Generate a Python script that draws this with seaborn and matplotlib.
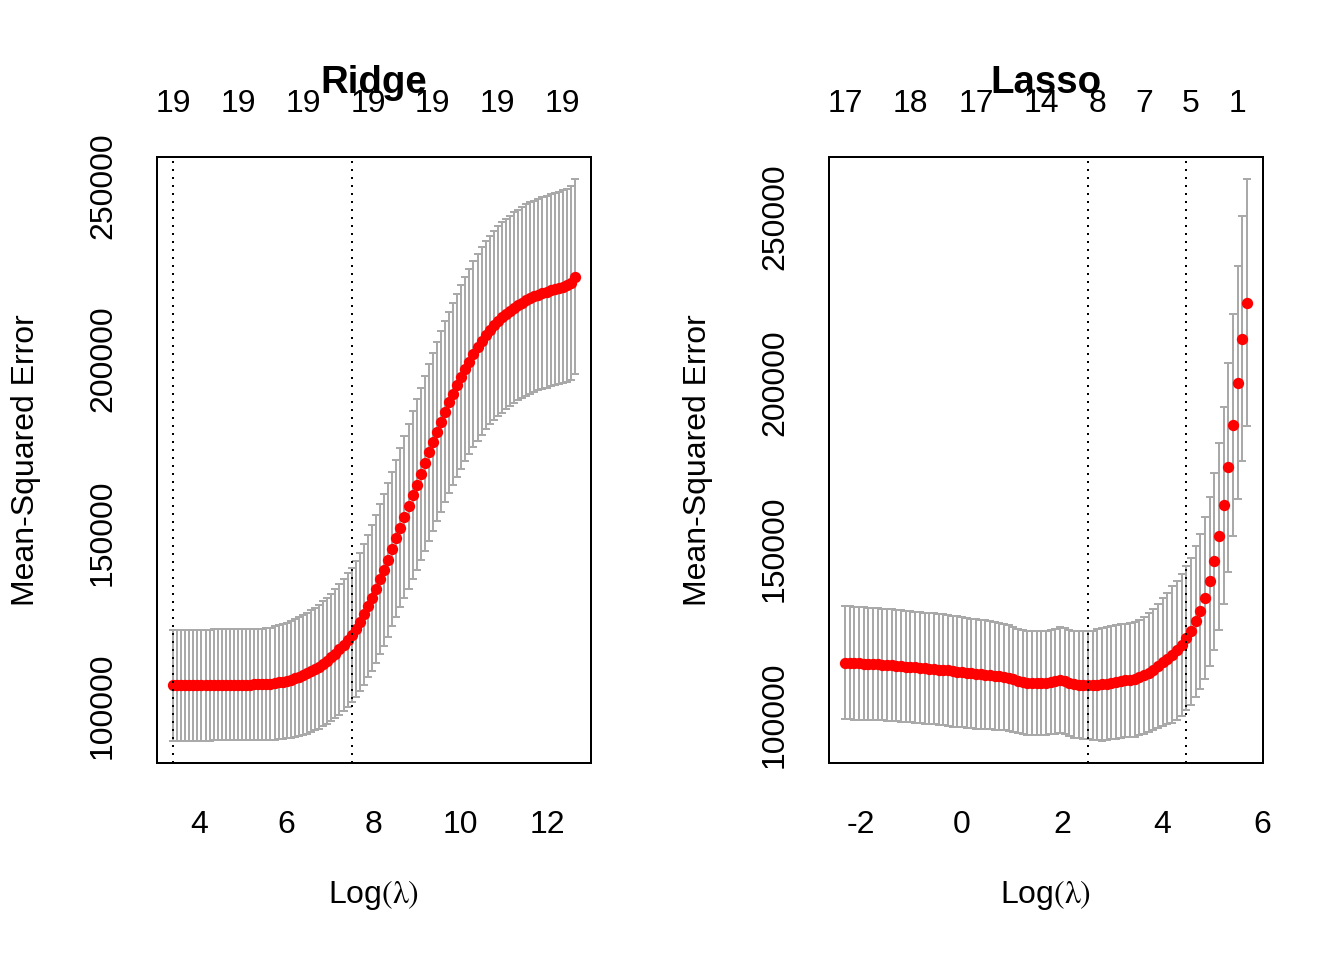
import numpy as np
import matplotlib
matplotlib.use('Agg')
import matplotlib.pyplot as plt
import seaborn as sns

# ---- Ridge CV curve (log lambda grid, mean CV error, its standard error)
ridge_loglam = np.linspace(3.404, 12.619, 100)
ridge_mse = [
    106000, 106000, 106000, 106000, 106000, 106000, 106000, 106000, 106000, 106000,
    106100, 106100, 106100, 106100, 106100, 106100, 106100, 106100, 106100, 106100,
    106200, 106200, 106200, 106300, 106400, 106600, 106800, 107000, 107300, 107600,
    108000, 108400, 108900, 109400, 110000, 110600, 111300, 112100, 113000, 114000,
    115100, 116300, 117600, 119000, 120500, 122200, 124200, 126400, 128800, 131200,
    133800, 136500, 139300, 142200, 145200, 148300, 151400, 154500, 157600, 160700,
    163800, 166900, 170000, 173100, 176100, 179100, 182000, 184800, 187500, 190000,
    192400, 194800, 197100, 199300, 201400, 203400, 205200, 206900, 208400, 209700,
    210900, 212000, 213000, 213900, 214800, 215600, 216300, 217000, 217600, 218100,
    218600, 219000, 219400, 219800, 220200, 220500, 220900, 221300, 221900, 223800,
]
ridge_sd = [
    16000, 16000, 16000, 16000, 16000, 16000, 16000, 16000, 16000, 16000,
    16000, 16000, 16000, 16000, 16000, 16000, 16000, 16000, 16000, 16000,
    16000, 16050, 16100, 16150, 16200, 16300, 16400, 16550, 16700, 16850,
    17000, 17150, 17300, 17400, 17550, 17700, 17850, 18000, 18200, 18400,
    18600, 18800, 19000, 19200, 19400, 19700, 20000, 20300, 20600, 21000,
    21300, 21600, 21900, 22200, 22300, 22600, 23000, 23400, 23800, 24200,
    24600, 24900, 25200, 25500, 25700, 25900, 26000, 26100, 26200, 26300,
    26400, 26500, 26600, 26700, 26800, 26900, 27000, 27100, 27200, 27300,
    27400, 27500, 27500, 27500, 27500, 27500, 27500, 27600, 27600, 27600,
    27600, 27600, 27700, 27700, 27700, 27700, 27800, 27800, 27900, 28000,
]
ridge_top_idx = [0, 16, 32, 48, 64, 80, 96]
ridge_top_nzero = [19, 19, 19, 19, 19, 19, 19]
ridge_vline_idx = [0, 44]          # lambda.min, lambda.1se

# ---- Lasso CV curve
lasso_loglam = np.linspace(-2.320, 5.686, 87)
lasso_mse = [
    115500, 115500, 115400, 115400, 115300, 115200, 115200, 115100, 115000, 114900,
    114800, 114700, 114600, 114400, 114300, 114200, 114000, 113900, 113800, 113700,
    113500, 113400, 113200, 113000, 112800, 112700, 112500, 112300, 112200, 112000,
    111900, 111800, 111600, 111500, 111300, 110900, 110500, 110100, 109700, 109500,
    109400, 109400, 109400, 109500, 109700, 110000, 110300, 110100, 109500, 109000,
    108900, 108800, 108800, 108800, 108900, 109000, 109200, 109500, 109700, 110000,
    110200, 110300, 110500, 111100, 111700, 112500, 113500, 114500, 115700, 116800,
    118000, 119300, 121000, 123000, 125000, 128000, 131000, 134900, 140100, 146100,
    153600, 162900, 174400, 187200, 199900, 213100, 223900,
]
lasso_sd = [
    17000, 17000, 17000, 17000, 16950, 16900, 16900, 16900, 16850, 16850,
    16800, 16800, 16800, 16750, 16750, 16700, 16700, 16700, 16700, 16700,
    16700, 16700, 16700, 16700, 16700, 16650, 16600, 16550, 16500, 16450,
    16400, 16300, 16200, 16100, 16000, 15900, 15800, 15700, 15600, 15600,
    15600, 15600, 15600, 15700, 15700, 15800, 15900, 16000, 16000, 16100,
    16100, 16200, 16200, 16400, 16700, 16900, 17000, 17000, 17100, 17100,
    17100, 17100, 17200, 17400, 17600, 17900, 18300, 18700, 19200, 19700,
    20500, 21000, 21400, 21700, 22200, 22700, 23400, 24400, 25400, 26700,
    28200, 29700, 31500, 33400, 35100, 36900, 37200,
]
lasso_top_idx = [0, 14, 28, 42, 54, 64, 74, 84]
lasso_top_nzero = [17, 18, 17, 14, 8, 7, 5, 1]
lasso_vline_idx = [52, 73]

y_ticks = [100000, 150000, 200000, 250000]
ridge_xticks = [4, 6, 8, 10, 12]
lasso_xticks = [-2, 0, 2, 4, 6]

PX = 72 / 192  # points per pixel at the output resolution


def cv_panel(ax, loglam, mse, sd, top_idx, top_labels, vline_idx, title, xticks):
    loglam = np.asarray(loglam)
    mse = np.asarray(mse, dtype=float)
    sd = np.asarray(sd, dtype=float)
    upper, lower = mse + sd, mse - sd

    ax.errorbar(loglam, mse, yerr=sd, fmt='none', ecolor='darkgrey',
                elinewidth=0.75, capsize=1.5, capthick=0.75, zorder=1)
    sns.scatterplot(x=loglam, y=mse, ax=ax, color='red', s=18,
                    linewidth=0, zorder=2, legend=False)
    for i in vline_idx:
        ax.axvline(loglam[i], color='black', lw=0.75, dashes=(1, 3), zorder=3)

    xr = loglam.max() - loglam.min()
    ax.set_xlim(loglam.min() - 0.04 * xr, loglam.max() + 0.04 * xr)
    yr = upper.max() - lower.min()
    ax.set_ylim(lower.min() - 0.04 * yr, upper.max() + 0.04 * yr)

    ax.set_xticks(xticks, labels=[str(t) for t in xticks], va='baseline')
    ax.set_yticks(y_ticks, labels=[str(t) for t in y_ticks], rotation=90,
                  rotation_mode='anchor', ha='center', va='baseline')
    ax.tick_params(axis='both', direction='out', length=19 * PX, width=0.75,
                   labelsize=12, color='black', labelcolor='black')
    ax.tick_params(axis='x', pad=51 * PX)
    ax.tick_params(axis='y', pad=27 * PX)
    for sp in ax.spines.values():
        sp.set_visible(True)
        sp.set_color('black')
        sp.set_linewidth(0.75)

    # number of non-zero coefficients along the top
    for i, lab in zip(top_idx, top_labels):
        ax.text(loglam[i], 1 + 45.3 / 606, str(lab), transform=ax.get_xaxis_transform(),
                ha='center', va='baseline', fontsize=12, color='black')
    ax.text(0.5, 1 + 64 / 606, title, transform=ax.transAxes, ha='center',
            va='baseline', fontsize=14.4, fontweight='bold', color='black')

    ax.set_xlabel(r'Log$(\mathrm{\lambda})$', fontsize=12, color='black')
    ax.xaxis.set_label_coords(0.5, -140 / 606)
    ax.xaxis.label.set_va('baseline')
    ax.set_ylabel('Mean-Squared Error', fontsize=12, color='black')
    ax.yaxis.set_label_coords(-123 / 434, 0.5)
    ax.yaxis.label.set_va('baseline')


def main():
    sns.set_style('white')
    plt.rcParams['font.family'] = ['Liberation Sans', 'DejaVu Sans']
    plt.rcParams['mathtext.fontset'] = 'stix'
    plt.rcParams['axes.unicode_minus'] = False
    plt.rcParams['text.color'] = 'black'
    plt.rcParams['axes.labelcolor'] = 'black'

    fig = plt.figure(figsize=(7, 5), dpi=192)
    ax1 = fig.add_axes([157 / 1344, 197 / 960, 434 / 1344, 606 / 960])
    ax2 = fig.add_axes([829 / 1344, 197 / 960, 434 / 1344, 606 / 960])

    cv_panel(ax1, ridge_loglam, ridge_mse, ridge_sd, ridge_top_idx,
             ridge_top_nzero, ridge_vline_idx, 'Ridge', ridge_xticks)
    cv_panel(ax2, lasso_loglam, lasso_mse, lasso_sd, lasso_top_idx,
             lasso_top_nzero, lasso_vline_idx, 'Lasso', lasso_xticks)

    fig.savefig('out.png', dpi=192, facecolor='white')
    plt.close(fig)


if __name__ == '__main__':
    main()
